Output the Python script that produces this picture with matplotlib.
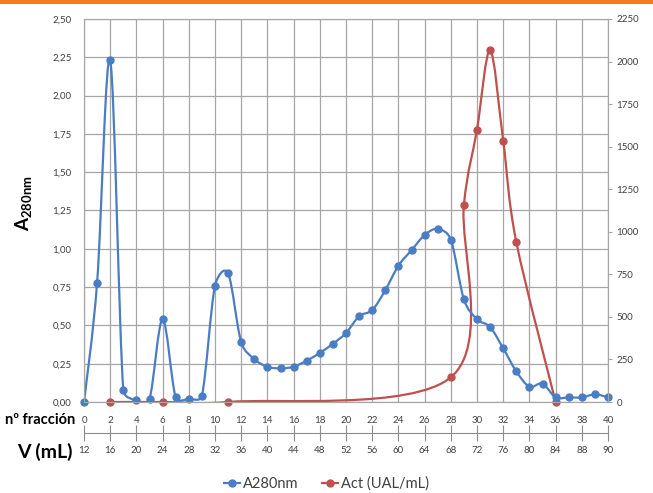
import math
import matplotlib
matplotlib.use('Agg')
import matplotlib.pyplot as plt
from matplotlib.path import Path
from matplotlib.patches import PathPatch, Rectangle
from matplotlib.lines import Line2D

plt.rcParams['font.family'] = ['Lato', 'DejaVu Sans']
plt.rcParams['mathtext.fontset'] = 'custom'
plt.rcParams['mathtext.bf'] = 'Lato:bold'

# Absorbance at 280 nm, one reading per fraction
fraccion = list(range(0, 41))
a280 = [0.00, 0.78, 2.23, 0.08, 0.01, 0.02, 0.54, 0.03, 0.02, 0.04,
        0.76, 0.84, 0.39, 0.28, 0.23, 0.22, 0.23, 0.27, 0.32, 0.38,
        0.45, 0.56, 0.60, 0.73, 0.89, 0.99, 1.09, 1.13, 1.06, 0.67,
        0.54, 0.49, 0.35, 0.20, 0.10, 0.12, 0.03, 0.03, 0.03, 0.05, 0.03]

# Activity (UAL/mL), measured only in some fractions
fraccion_act = [2, 6, 11, 28, 29, 30, 31, 32, 33, 36]
act = [0, 0, 0, 145, 1160, 1600, 2065, 1535, 940, 0]

frac_ticks = list(range(0, 41, 2))
v_labels = ['12', '16', '20', '24', '28', '32', '36', '40', '44', '48', '52',
            '56', '60', '64', '68', '72', '76', '80', '84', '88', '90']
y_left_ticks = [i * 0.25 for i in range(11)]
y_left_labels = ['0,00', '0,25', '0,50', '0,75', '1,00', '1,25',
                 '1,50', '1,75', '2,00', '2,25', '2,50']
y_right_ticks = list(range(0, 2251, 250))

blue = '#4a7dc4'
red = '#c0504d'
grid_c = '#a6a6a6'
text_c = '#404040'

AX_W, AX_H = 524, 383  # plot area in pixels


def smooth_path(xs, ys, xmax, ymax):
    # Excel style smoothed line: cubic Bezier between neighbouring points,
    # control arms limited to half the segment length (measured on screen)
    sx, sy = AX_W / xmax, AX_H / ymax

    def dist(a, b):
        return math.hypot((b[0] - a[0]) * sx, (b[1] - a[1]) * sy)

    pts = list(zip(xs, ys))
    n = len(pts)
    verts = [pts[0]]
    codes = [Path.MOVETO]
    for i in range(n - 1):
        p0 = pts[i - 1] if i > 0 else pts[i]
        p1, p2 = pts[i], pts[i + 1]
        p3 = pts[i + 2] if i + 2 < n else p2
        d12 = dist(p1, p2)
        d02 = dist(p0, p2)
        d13 = dist(p1, p3)
        f1 = 1 / 6 if d02 / 6 < d12 / 2 else d12 / (2 * d02)
        f2 = 1 / 6 if d13 / 6 < d12 / 2 else d12 / (2 * d13)
        verts += [(p1[0] + f1 * (p2[0] - p0[0]), p1[1] + f1 * (p2[1] - p0[1])),
                  (p2[0] - f2 * (p3[0] - p1[0]), p2[1] - f2 * (p3[1] - p1[1])),
                  p2]
        codes += [Path.CURVE4] * 3
    return Path(verts, codes)


fig = plt.figure(figsize=(6.53, 4.93), dpi=100)
ax = fig.add_axes([84 / 653, 91 / 493, AX_W / 653, AX_H / 493])
ax2 = ax.twinx()

# red series goes on ax (with ax2 scale) so the grid stays underneath
ax.add_patch(PathPatch(smooth_path(fraccion_act, act, 40, 2250),
                       transform=ax2.transData, fill=False, ec=red, lw=1.6,
                       zorder=2))
ax.plot(fraccion_act, act, 'o', color=red, ms=5, transform=ax2.transData,
        zorder=2.5, clip_on=False)

ax.add_patch(PathPatch(smooth_path(fraccion, a280, 40, 2.5), fill=False,
                       ec=blue, lw=1.6, zorder=3))
ax.plot(fraccion, a280, 'o', color=blue, ms=5, zorder=3.5, clip_on=False)

ax.set_xlim(0, 40)
ax.set_ylim(0, 2.5)
ax2.set_ylim(0, 2250)

ax.set_xticks(frac_ticks, [str(f) for f in frac_ticks])
ax.set_yticks(y_left_ticks, y_left_labels)
ax.grid(True, color=grid_c, lw=0.9)
ax.set_axisbelow(True)
ax.tick_params(axis='x', length=0, pad=10, labelsize=7, labelcolor=text_c)
ax.tick_params(axis='y', length=0, pad=9, labelsize=7, labelcolor=text_c)

ax2.set_yticks(y_right_ticks)
ax2.tick_params(axis='y', length=3, color=grid_c, pad=3, labelsize=7,
                labelcolor=text_c)

for sp in list(ax.spines.values()) + list(ax2.spines.values()):
    sp.set_color(grid_c)

# volume axis below the fraction numbers
secax = ax.secondary_xaxis(-31 / 383)
secax.set_xticks(frac_ticks, v_labels)
secax.tick_params(direction='inout', length=11, color='#8c8c8c', pad=4,
                  labelsize=7, labelcolor=text_c)
for sp in secax.spines.values():
    sp.set_color('#8c8c8c')

fig.text(75 / 653, 1 - 420 / 493, 'nº fracción', ha='right', va='center',
         fontsize=10.5, fontweight='bold')
fig.text(73 / 653, 1 - 452 / 493, 'V (mL)', ha='right', va='center',
         fontsize=14, fontweight='bold')
fig.text(24 / 653, 1 - 203 / 493, r'$\mathbf{A}_{\mathbf{280nm}}$',
         rotation=90, ha='center', va='center', fontsize=13.5)

handles = [Line2D([], [], color=blue, marker='o', ms=5, lw=1.6),
           Line2D([], [], color=red, marker='o', ms=5, lw=1.6)]
leg = fig.legend(handles, ['A280nm', 'Act (UAL/mL)'], loc='center',
                 bbox_to_anchor=(0.5, 1 - 484 / 493), ncol=2, frameon=False,
                 fontsize=10.5, handlelength=1.1, handletextpad=0.2,
                 columnspacing=1.6)
for t in leg.get_texts():
    t.set_color(text_c)

# orange strip along the top edge
fig.add_artist(Rectangle((0, 1 - 4 / 493), 1, 4 / 493,
                         transform=fig.transFigure, color='#f47b20', lw=0))

fig.savefig('out.png', dpi=100)
